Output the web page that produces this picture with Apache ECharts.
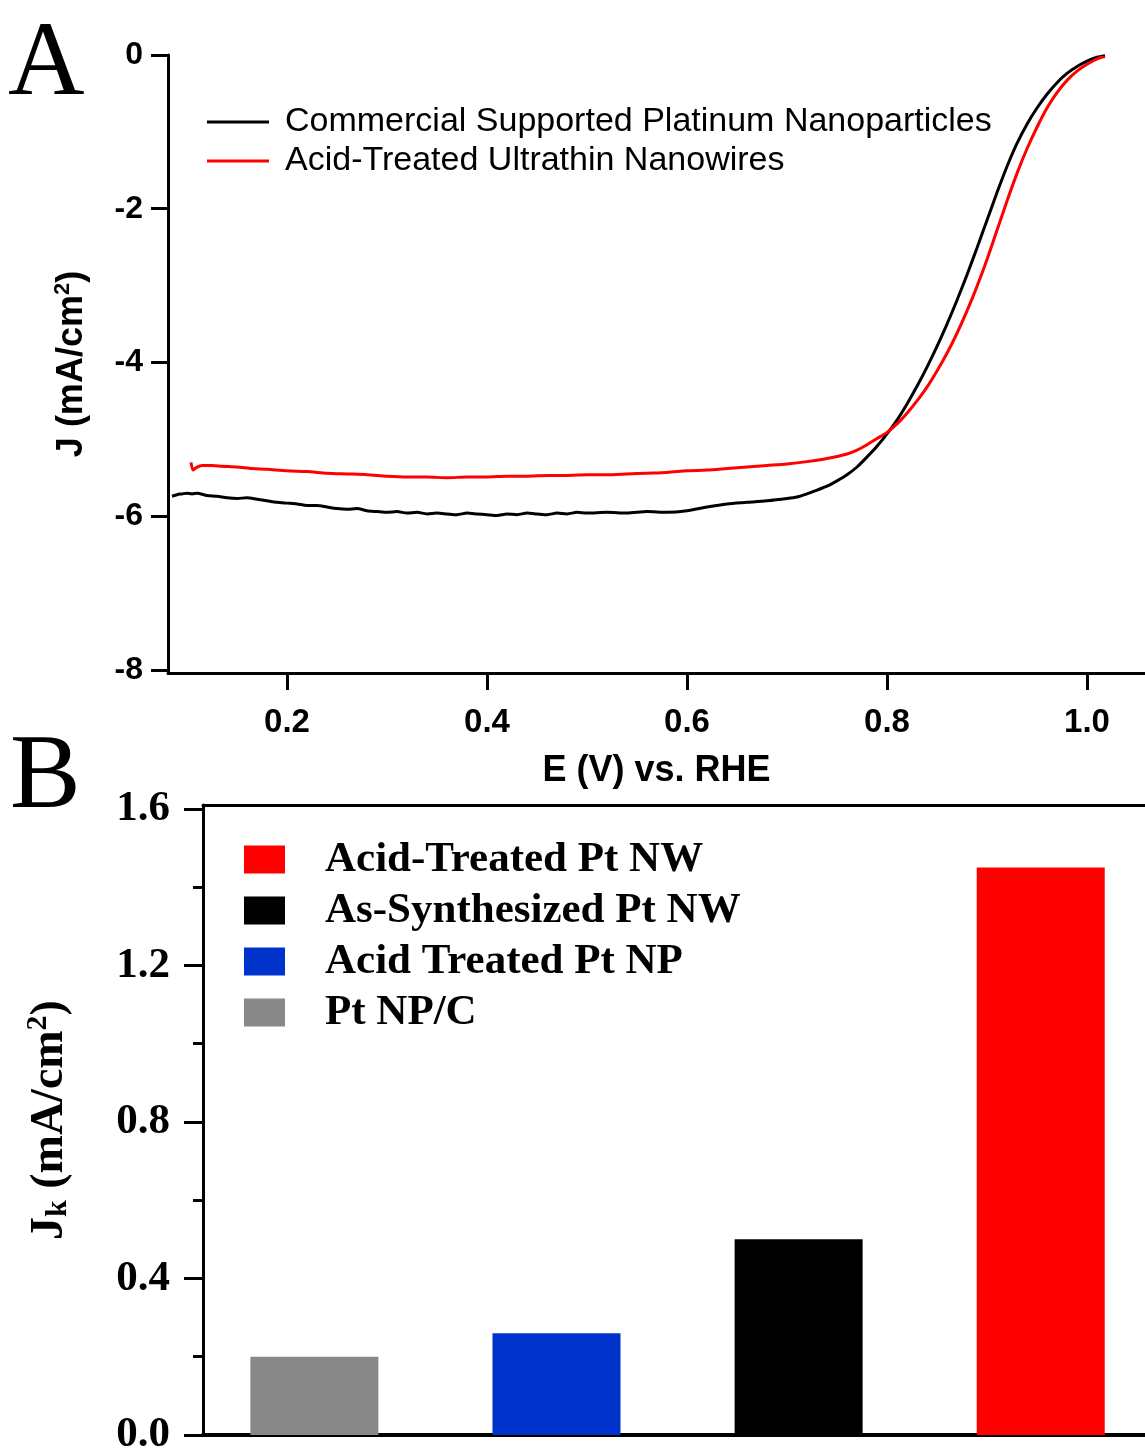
<!DOCTYPE html>
<html>
<head>
<meta charset="utf-8">
<script src="https://cdn.jsdelivr.net/npm/echarts@6/dist/echarts.min.js"></script>
<style>
html,body{margin:0;padding:0;background:#fff;}
#c{width:1145px;height:1454px;}
</style>
</head>
<body>
<div id="c"></div>
<script>
// ---------- Panel A data: E (V) vs RHE, J (mA/cm2) ----------
const seriesNamesA = ['Commercial Supported Platinum Nanoparticles', 'Acid-Treated Ultrathin Nanowires'];
const blackCurve = [
 [0.085,-5.74],[0.09,-5.72],[0.095,-5.71],[0.10,-5.70],[0.105,-5.71],[0.11,-5.70],[0.12,-5.73],[0.13,-5.74],
 [0.14,-5.76],[0.15,-5.77],[0.16,-5.76],[0.17,-5.78],[0.18,-5.80],[0.19,-5.82],[0.20,-5.83],[0.21,-5.84],
 [0.22,-5.86],[0.23,-5.86],[0.24,-5.88],[0.25,-5.90],[0.26,-5.91],[0.27,-5.90],[0.28,-5.93],[0.29,-5.94],
 [0.30,-5.95],[0.31,-5.94],[0.32,-5.96],[0.33,-5.95],[0.34,-5.97],[0.35,-5.96],[0.36,-5.97],[0.37,-5.98],
 [0.38,-5.96],[0.39,-5.97],[0.40,-5.98],[0.41,-5.99],[0.42,-5.97],[0.43,-5.98],[0.44,-5.96],[0.45,-5.97],
 [0.46,-5.98],[0.47,-5.96],[0.48,-5.97],[0.49,-5.95],[0.50,-5.96],[0.52,-5.95],[0.54,-5.96],[0.56,-5.94],
 [0.58,-5.95],[0.60,-5.93],[0.62,-5.88],[0.64,-5.84],[0.66,-5.82],[0.68,-5.80],[0.70,-5.77],[0.71,-5.75],
 [0.72,-5.71],[0.73,-5.66],[0.74,-5.61],[0.75,-5.54],[0.76,-5.46],[0.77,-5.36],[0.78,-5.23],[0.79,-5.09],
 [0.80,-4.93],[0.81,-4.75],[0.82,-4.54],[0.83,-4.31],[0.84,-4.06],[0.85,-3.79],[0.86,-3.50],[0.87,-3.19],
 [0.88,-2.86],[0.89,-2.51],[0.90,-2.15],[0.91,-1.79],[0.92,-1.45],[0.93,-1.15],[0.94,-0.90],[0.95,-0.69],
 [0.96,-0.51],[0.97,-0.36],[0.98,-0.24],[0.99,-0.15],[1.00,-0.08],[1.01,-0.03],[1.018,-0.01]
];
const redCurve = [
 [0.104,-5.30],[0.106,-5.40],[0.109,-5.37],[0.115,-5.34],[0.125,-5.34],[0.135,-5.35],[0.15,-5.36],[0.165,-5.38],
 [0.18,-5.39],[0.20,-5.41],[0.22,-5.42],[0.24,-5.44],[0.26,-5.45],[0.28,-5.46],[0.30,-5.48],[0.32,-5.49],
 [0.34,-5.49],[0.36,-5.50],[0.38,-5.49],[0.40,-5.49],[0.42,-5.48],[0.44,-5.48],[0.46,-5.47],[0.48,-5.47],
 [0.50,-5.46],[0.52,-5.46],[0.54,-5.45],[0.56,-5.44],[0.58,-5.43],[0.60,-5.41],[0.62,-5.40],[0.64,-5.38],
 [0.66,-5.36],[0.68,-5.34],[0.70,-5.32],[0.72,-5.29],[0.74,-5.25],[0.76,-5.19],[0.77,-5.14],[0.78,-5.07],
 [0.79,-4.99],[0.80,-4.91],[0.81,-4.80],[0.82,-4.66],[0.83,-4.50],[0.84,-4.32],[0.85,-4.11],[0.86,-3.88],
 [0.87,-3.62],[0.88,-3.33],[0.89,-3.01],[0.90,-2.66],[0.91,-2.28],[0.92,-1.90],[0.93,-1.54],[0.94,-1.22],
 [0.95,-0.94],[0.96,-0.69],[0.97,-0.49],[0.98,-0.33],[0.99,-0.21],[1.00,-0.12],[1.01,-0.05],[1.018,-0.02]
];
const xTicksA = [0.2, 0.4, 0.6, 0.8, 1.0];
const yTicksA = [-8, -6, -4, -2, 0];

// ---------- Panel B data: Jk (mA/cm2) ----------
const categoriesB = ['Pt NP/C', 'Acid Treated Pt NP', 'As-Synthesized Pt NW', 'Acid-Treated Pt NW'];
const valuesB = [0.20, 0.26, 0.50, 1.45];
const colorsB = ['#888888', '#0033cc', '#000000', '#ff0000'];
const legendOrderB = ['Acid-Treated Pt NW', 'As-Synthesized Pt NW', 'Acid Treated Pt NP', 'Pt NP/C'];
const yMajorB = [0, 0.4, 0.8, 1.2, 1.6];
const yMinorB = [0.2, 0.6, 1.0, 1.4];

const SANS = '"Liberation Sans", Arial, sans-serif';
const SERIF = '"Liberation Serif", "Times New Roman", serif';

const chart = echarts.init(document.getElementById('c'), null, {renderer: 'canvas'});

const barSeries = categoriesB.map((name, i) => ({
  name: name,
  type: 'bar',
  xAxisIndex: 1,
  yAxisIndex: 2,
  barWidth: 128,
  barGap: '-100%',
  itemStyle: {color: colorsB[i]},
  data: [[i + 1, valuesB[i]]],
  silent: true
}));

const option = {
  animation: false,
  backgroundColor: '#fff',
  graphic: [
    {type: 'text', left: 8, top: 13, style: {text: 'A', font: '106px ' + SERIF, fill: '#000'}},
    {type: 'text', left: 10, top: 726, style: {text: 'B', font: '106px ' + SERIF, fill: '#000'}}
  ],
  legend: [
    {
      data: seriesNamesA,
      left: 207, top: 105, padding: 0,
      orient: 'vertical',
      icon: 'rect',
      itemWidth: 62, itemHeight: 3, itemGap: 5,
      textStyle: {fontFamily: SANS, fontSize: 34, lineHeight: 34, color: '#000', padding: [0, 0, 0, 11]}
    },
    {
      data: legendOrderB,
      left: 244, top: 838, padding: 0,
      orient: 'vertical',
      icon: 'rect',
      itemWidth: 41, itemHeight: 28, itemGap: 8,
      textStyle: {fontFamily: SERIF, fontWeight: 'bold', fontSize: 43, lineHeight: 43, color: '#000', padding: [0, 0, 0, 35]}
    }
  ],
  grid: [
    {left: 168, top: 55, width: 977, height: 618, outerBoundsMode: 'none'},
    {left: 203, top: 805, width: 983, height: 630, outerBoundsMode: 'none'}
  ],
  xAxis: [
    {
      type: 'value', gridIndex: 0, min: 0.081, max: 1.058,
      name: 'E (V) vs. RHE', nameLocation: 'middle', nameGap: 80,
      nameTextStyle: {fontFamily: SANS, fontWeight: 'bold', fontSize: 36, color: '#000'},
      axisLine: {show: true, onZero: false, lineStyle: {color: '#000', width: 3}},
      axisTick: {show: true, inside: false, length: 17, customValues: xTicksA, lineStyle: {color: '#000', width: 3}},
      axisLabel: {customValues: xTicksA, margin: 33, fontFamily: SANS, fontWeight: 'bold', fontSize: 33, color: '#000',
        formatter: v => v.toFixed(1)},
      splitLine: {show: false}
    },
    {
      type: 'value', gridIndex: 1, position: 'bottom', min: 0.54, max: 4.6,
      axisLine: {show: true, onZero: false, lineStyle: {color: '#000', width: 4}},
      axisTick: {show: false}, axisLabel: {show: false}, splitLine: {show: false}
    },
    {
      type: 'value', gridIndex: 1, position: 'top', min: 0.54, max: 4.6,
      axisLine: {show: true, onZero: false, lineStyle: {color: '#000', width: 3}},
      axisTick: {show: false}, axisLabel: {show: false}, splitLine: {show: false}
    }
  ],
  yAxis: [
    {
      type: 'value', gridIndex: 0, position: 'left', min: -8.04, max: 0,
      name: '{t|J (mA/cm}{s|2}{t|)}', nameLocation: 'middle', nameGap: 76, nameRotate: 90,
      nameTextStyle: {rich: {
        t: {fontFamily: SANS, fontWeight: 'bold', fontSize: 36, color: '#000'},
        s: {fontFamily: SANS, fontWeight: 'bold', fontSize: 22, color: '#000', padding: [0, 0, 18, 0]}
      }},
      axisLine: {show: true, onZero: false, lineStyle: {color: '#000', width: 3}},
      axisTick: {show: true, inside: false, length: 17, customValues: yTicksA, lineStyle: {color: '#000', width: 3}},
      axisLabel: {customValues: yTicksA, margin: 25, fontFamily: SANS, fontWeight: 'bold', fontSize: 32, color: '#000'},
      splitLine: {show: false}
    },
    {
      type: 'value', gridIndex: 1, position: 'left', offset: 0, min: 0, max: 1.61,
      axisLine: {show: false},
      axisTick: {show: true, inside: false, length: 10, customValues: yMinorB, lineStyle: {color: '#000', width: 3}},
      axisLabel: {show: false}, splitLine: {show: false}
    },
    {
      type: 'value', gridIndex: 1, position: 'left', offset: 0, min: 0, max: 1.61,
      name: '{t|J}{k|k}{t| (mA/cm}{s|2}{t|)}', nameLocation: 'middle', nameGap: 126, nameRotate: 90,
      nameTextStyle: {rich: {
        t: {fontFamily: SERIF, fontWeight: 'bold', fontSize: 46, color: '#000'},
        k: {fontFamily: SERIF, fontWeight: 'bold', fontSize: 30, color: '#000', padding: [16, 0, 0, 0]},
        s: {fontFamily: SERIF, fontWeight: 'bold', fontSize: 30, color: '#000', padding: [0, 0, 24, 0]}
      }},
      axisLine: {show: true, onZero: false, lineStyle: {color: '#000', width: 3}},
      axisTick: {show: true, inside: false, length: 19, customValues: yMajorB, lineStyle: {color: '#000', width: 3}},
      axisLabel: {customValues: yMajorB, margin: 33, fontFamily: SERIF, fontWeight: 'bold', fontSize: 43, color: '#000',
        formatter: v => v.toFixed(1)},
      splitLine: {show: false}
    }
  ],
  series: [
    {
      name: seriesNamesA[0], type: 'line', xAxisIndex: 0, yAxisIndex: 0,
      data: blackCurve, showSymbol: false, symbol: 'none',
      smooth: 0.25,
      lineStyle: {color: '#000', width: 3}, itemStyle: {color: '#000'}
    },
    {
      name: seriesNamesA[1], type: 'line', xAxisIndex: 0, yAxisIndex: 0,
      data: redCurve, showSymbol: false, symbol: 'none',
      smooth: 0.25,
      lineStyle: {color: '#ff0000', width: 3}, itemStyle: {color: '#ff0000'}
    }
  ].concat(barSeries)
};
chart.setOption(option);
</script>
</body>
</html>
